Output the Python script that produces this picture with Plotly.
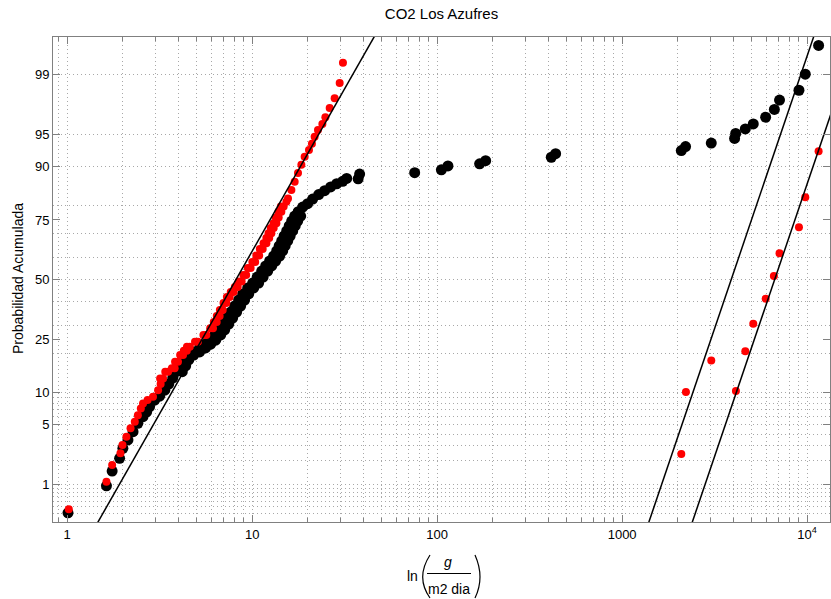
import math
from statistics import NormalDist
import plotly.graph_objects as go

# ---- data -----------------------------------------------------------------
# CO2 flux values (g / m2 dia) and their cumulative probability (%)
black_x = [1.01, 1.63, 1.75, 1.92, 2.00, 2.13, 2.27, 2.41, 2.57, 2.69, 2.79, 2.97,
           3.16, 3.37, 3.54, 3.72, 3.89, 4.06, 4.21, 4.48, 4.83, 5.20, 5.54, 5.89,
           6.27, 6.59, 6.93, 7.28, 7.65, 8.04, 8.45, 8.89, 9.46, 10.06, 10.64, 11.26,
           11.83, 12.43, 13.07, 13.57, 13.99, 14.44, 14.89, 15.37, 15.85, 16.35, 16.97,
           17.73, 18.75, 19.95, 21.23, 22.88, 24.65, 26.57, 28.63, 30.85, 32.43, 37.4,
           38.1, 75.6, 105.4, 114.4, 169.7, 182.9, 414, 437, 2089, 2203, 3034, 4055,
           4110, 4634, 5117, 5970, 6653, 7096, 9036, 9778, 11540]
black_pct = [0.41, 0.97, 1.50, 2.14, 2.79, 3.45, 4.23, 5.16, 6.0, 6.7, 7.5, 8.6,
             9.3, 10.5, 11.8, 13.2, 14.8, 16.4, 18.1, 19.6, 20.6, 21.9, 23.2, 24.6,
             26.5, 28.4, 30.7, 33.1, 35.6, 38.2, 40.8, 43.5, 46.2, 48.4, 51.1, 53.8,
             56.1, 58.3, 60.5, 62.7, 64.8, 66.9, 68.9, 70.9, 72.8, 74.6, 76.4,
             77.9, 79.4, 80.5, 81.9, 83.2, 84.3, 85.3, 86.1, 86.7, 87.4, 87.3,
             88.4, 88.7, 89.3, 90.1, 90.5, 91.1, 91.7, 92.3, 92.8, 93.4, 93.9, 94.5,
             95.1, 95.6, 96.1, 96.7, 97.3, 97.9, 98.4, 99.0, 99.6]
# right-hand side of the dense part of the black band
black_edge_x = [4.19, 4.37, 4.54, 4.83, 5.20, 5.60, 5.97, 6.35, 6.76, 7.10, 7.47,
                7.84, 8.24, 8.66, 9.10, 9.58, 10.19, 10.84, 11.46, 12.13, 12.75,
                13.39, 14.08, 14.62, 15.07, 15.56, 16.04, 16.56, 17.08, 17.62, 18.29]
black_edge_pct = [14.8, 16.4, 18.1, 19.6, 20.6, 21.9, 23.2, 24.6, 26.5, 28.4, 30.7,
                  33.1, 35.6, 38.2, 40.8, 43.5, 46.2, 48.4, 51.1, 53.8, 56.1,
                  58.3, 60.5, 62.7, 64.8, 66.9, 68.9, 70.9, 72.8, 74.6, 76.4]

# background population
red_x = [1.02, 1.63, 1.75, 1.94, 1.99, 2.09, 2.20, 2.32, 2.41, 2.50, 2.57, 2.72,
         2.91, 3.10, 3.20, 3.30, 3.51, 3.81, 3.97, 4.23, 4.43, 4.60, 5.09, 5.65,
         6.14, 6.43, 6.67, 6.93, 7.25, 7.56, 7.94, 8.35, 8.77, 9.28, 9.81, 10.38,
         10.91, 11.40, 11.94, 12.36, 12.70, 13.07, 13.52, 13.91, 14.38, 14.80, 15.31,
         15.62, 16.29, 16.97, 17.69, 18.45, 19.22, 20.28, 21.04, 21.76, 22.68, 23.96,
         24.87, 26.24, 27.92, 29.72, 30.96]
red_pct = [0.46, 1.10, 1.78, 2.45, 3.04, 3.75, 4.59, 5.36, 6.2, 7.2, 8.0, 8.6,
           9.2, 10.5, 11.8, 13.1, 14.8, 15.7, 17.6, 19.6, 21.0, 22.3, 24.0, 26.5,
           29.0, 31.5, 34.0, 36.5, 39.5, 42.1, 44.4, 46.6, 49.1, 52.0, 55.2, 57.9,
           60.7, 63.5, 65.9, 68.1, 70.0, 72.0, 73.8, 75.9, 77.9, 79.6, 81.1,
           82.1, 84.5, 86.6, 88.6, 90.3, 91.8, 92.9, 93.8, 94.7, 95.5, 96.1,
           96.7, 97.4, 98.0, 98.7, 99.3]
# left-hand side of the dense part of the red band
red_edge_x = [3.18, 3.39, 3.68, 3.83, 4.08, 4.27, 4.44, 4.91, 5.45, 5.93, 6.20,
              6.44, 6.69, 7.00, 7.30, 7.66, 8.06, 8.46, 8.96, 9.47, 10.02, 10.53,
              11.00, 11.52, 11.93, 12.26, 12.61, 13.05, 13.42, 13.88, 14.28]
red_edge_pct = [13.1, 14.8, 15.7, 17.6, 19.6, 21.0, 22.3, 24.0, 26.5, 29.0, 31.5,
                34.0, 36.5, 39.5, 42.1, 44.4, 46.6, 49.1, 52.0, 55.2, 57.9, 60.7,
                63.5, 65.9, 68.1, 70.0, 72.0, 73.8, 75.9, 77.9, 79.6]

# high-flux population
red_hi_x = [2089, 2213, 3034, 4123, 4634, 5117, 5970, 6615, 7096, 9036, 9778, 11540]
red_hi_pct = [2.4, 10.1, 17.9, 10.3, 20.8, 30.8, 41.4, 51.6, 61.7, 72.3, 82.4, 92.7]

# lognormal reference lines: median and log10 standard deviation
fit_median = [8.18, 3890, 6680]
fit_sigma = [0.2716, 0.162, 0.162]

y_tick_pct = [1, 5, 10, 25, 50, 75, 90, 95, 99]
y_grid_pct = [0.3, 0.4, 0.5, 0.6, 0.7, 0.8, 0.9, 1, 2, 3, 4, 5, 6, 7, 8, 9,
              10, 20, 30, 40, 50, 60, 70, 80, 90, 95, 99]
x_tick_vals = [1, 10, 100, 1000, 10000]
x_tick_text = ["1", "10", "100", "1000", "10<sup>4</sup>"]

# ---- helpers ----------------------------------------------------------------
nd = NormalDist()


def zq(pct):
    return nd.inv_cdf(pct / 100.0)


W, H = 831, 599
ML, MR, MT, MB = 53, 1, 37, 77
PW, PH = W - ML - MR, H - MT - MB


def px(xp):
    return (xp - ML) / PW


def py(yp):
    return (MT + PH - yp) / PH


FONT = "Liberation Sans, Arial, sans-serif"
AXC = "#808080"
GRIDC = "#a8a8a8"
DASH = "1px,3px"

fig = go.Figure()

bx = black_x + black_edge_x
bp = black_pct + black_edge_pct
fig.add_trace(go.Scatter(
    x=bx, y=[zq(p) for p in bp], mode="markers",
    marker=dict(color="black", size=11, line=dict(width=0)),
    showlegend=False, hoverinfo="skip"))

rx = red_x + red_edge_x + red_hi_x
rp = red_pct + red_edge_pct + red_hi_pct
fig.add_trace(go.Scatter(
    x=rx, y=[zq(p) for p in rp], mode="markers",
    marker=dict(color="#ff0000", size=8, line=dict(width=0)),
    showlegend=False, hoverinfo="skip"))

z_ends = [-3.2, 3.2]
for med, sg in zip(fit_median, fit_sigma):
    fig.add_trace(go.Scatter(
        x=[10 ** (math.log10(med) + z * sg) for z in z_ends], y=z_ends,
        mode="lines", line=dict(color="black", width=1.5),
        showlegend=False, hoverinfo="skip"))

# empty trace that carries the overlay axis used for horizontal grid lines
fig.add_trace(go.Scatter(x=[], y=[], yaxis="y2", showlegend=False,
                         hoverinfo="skip"))

y_range = [zq(0.3), zq(99.7)]

fig.update_layout(
    width=W, height=H,
    margin=dict(l=ML, r=MR, t=MT, b=MB, pad=0),
    paper_bgcolor="white", plot_bgcolor="white",
    font=dict(family=FONT, size=13, color="black"),
    title=dict(text="CO2 Los Azufres", x=0.5, xref="paper", xanchor="center",
               y=1 - 14 / H, yref="container", yanchor="middle",
               font=dict(family=FONT, size=15, color="black")),
    xaxis=dict(
        type="log", range=[math.log10(0.838), math.log10(13300)],
        tickvals=x_tick_vals, ticktext=x_tick_text,
        ticks="inside", ticklen=7, tickcolor=AXC, tickwidth=1,
        showline=True, linecolor=AXC, linewidth=1, mirror="ticks",
        showgrid=True, gridcolor=GRIDC, griddash=DASH, gridwidth=1,
        zeroline=False,
        tickfont=dict(family=FONT, size=13, color="black"),
        minor=dict(
            tickvals=[m * 10 ** k for k in range(-1, 5) for m in range(2, 10)],
            ticks="inside", ticklen=4, tickcolor=AXC, tickwidth=1,
            showgrid=True, gridcolor=GRIDC, griddash=DASH, gridwidth=1),
    ),
    yaxis=dict(
        range=y_range,
        tickvals=[zq(p) for p in y_tick_pct],
        ticktext=[str(p) for p in y_tick_pct],
        ticks="inside", ticklen=7, tickcolor=AXC, tickwidth=1,
        showline=True, linecolor=AXC, linewidth=1, mirror="ticks",
        showgrid=False, zeroline=False,
        tickfont=dict(family=FONT, size=13, color="black"),
    ),
    yaxis2=dict(
        overlaying="y", anchor="x", range=y_range,
        tickvals=[zq(p) for p in y_grid_pct],
        showticklabels=False, ticks="", showline=False, zeroline=False,
        showgrid=True, gridcolor=GRIDC, griddash=DASH, gridwidth=1,
    ),
)

# y-axis label
fig.add_annotation(text="Probabilidad Acumulada", textangle=-90,
                   xref="paper", yref="paper", x=px(18), y=py(279),
                   xanchor="center", yanchor="middle", showarrow=False,
                   font=dict(family=FONT, size=14, color="black"))

# x-axis label: ln( g / m2 dia )
fig.add_annotation(text="ln", xref="paper", yref="paper", x=px(412), y=py(576),
                   xanchor="center", yanchor="middle", showarrow=False,
                   font=dict(family=FONT, size=14, color="black"))
fig.add_annotation(text="<i>g</i>", xref="paper", yref="paper", x=px(448), y=py(562),
                   xanchor="center", yanchor="middle", showarrow=False,
                   font=dict(family=FONT, size=14, color="black"))
fig.add_annotation(text="m2 dia", xref="paper", yref="paper", x=px(449), y=py(589),
                   xanchor="center", yanchor="middle", showarrow=False,
                   font=dict(family=FONT, size=14, color="black"))
fig.add_shape(type="line", xref="paper", yref="paper",
              x0=px(427), x1=px(471), y0=py(573.5), y1=py(573.5),
              line=dict(color="black", width=1))
for x0, xc in ((430, 415.4), (475, 485.0)):
    fig.add_shape(
        type="path", xref="paper", yref="paper",
        path=f"M {px(x0)} {py(555)} Q {px(xc)} {py(577.5)} {px(x0)} {py(598)}",
        line=dict(color="black", width=1.2))

fig.write_html("out.html")
